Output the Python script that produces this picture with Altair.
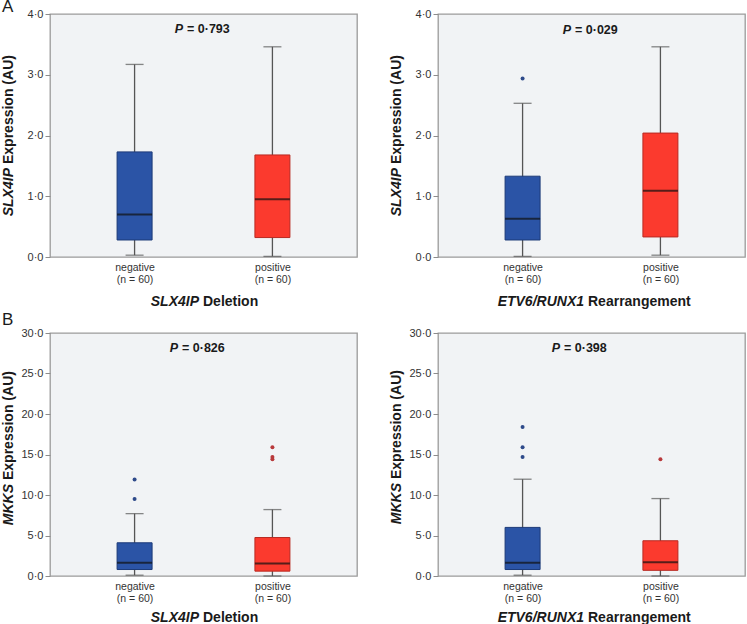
import altair as alt
import pandas as pd

FONT = "Liberation Sans"
groups = ["negative", "positive"]
n_counts = [60, 60]

box_fill = ["#2b54a6", "#fb3a2e"]
box_edge = ["#1c3a78", "#b82a22"]
outlier_fill = ["#2e4a8a", "#b8393b"]

# A: SLX4IP expression vs SLX4IP deletion
a1_low = [0.03, 0.01]
a1_q1 = [0.28, 0.32]
a1_med = [0.70, 0.95]
a1_q3 = [1.73, 1.68]
a1_high = [3.17, 3.46]
a1_out_group = []
a1_out_val = []

# A: SLX4IP expression vs ETV6/RUNX1 rearrangement
a2_low = [0.01, 0.03]
a2_q1 = [0.28, 0.33]
a2_med = [0.63, 1.09]
a2_q3 = [1.33, 2.04]
a2_high = [2.53, 3.46]
a2_out_group = ["negative"]
a2_out_val = [2.94]

# B: MKKS expression vs SLX4IP deletion
b1_low = [0.1, 0.0]
b1_q1 = [0.8, 0.6]
b1_med = [1.65, 1.55]
b1_q3 = [4.1, 4.75]
b1_high = [7.7, 8.2]
b1_out_group = ["negative", "negative", "positive", "positive", "positive"]
b1_out_val = [11.9, 9.5, 15.9, 14.7, 14.4]

# B: MKKS expression vs ETV6/RUNX1 rearrangement
b2_low = [0.1, 0.0]
b2_q1 = [0.8, 0.7]
b2_med = [1.65, 1.7]
b2_q3 = [6.0, 4.35]
b2_high = [11.95, 9.56]
b2_out_group = ["negative", "negative", "negative", "positive"]
b2_out_val = [18.4, 15.9, 14.7, 14.4]

W, H = 307, 243
GAP = 4  # word gap between the italic symbol and the plain text


def panel(low, q1, med, q3, high, out_group, out_val, ymax, ystep,
          p_text, p_pos, gene, ytitle_join, xgene, xrest, xtitle_join, xtitle_dy,
          letter=None, letter_y=0):
    df = pd.DataFrame({"group": groups, "low": low, "q1": q1, "median": med,
                       "q3": q3, "high": high})
    ticks = list(range(0, ymax + 1, ystep))
    yscale = alt.Scale(domain=[0, ymax], nice=False, zero=True)
    yaxis = alt.Axis(values=ticks, grid=False, domain=False, title=None,
                     labelExpr="replace(format(datum.value, '.1f'), '.', '·')",
                     tickColor="#8c8c8c", tickSize=5, tickWidth=1,
                     labelFontSize=11, labelColor="#333333", labelPadding=2)
    nexpr = f"[datum.label, datum.label == 'negative' ? '(n = {n_counts[0]})' : '(n = {n_counts[1]})']"
    xenc = alt.X("group:N", scale=alt.Scale(type="point", padding=0.6136, domain=groups),
                 axis=alt.Axis(title=None, ticks=False, domain=False, labelAngle=0,
                               labelExpr=nexpr, labelFontSize=10.5, labelColor="#333333",
                               labelPadding=5, labelLineHeight=12))
    base = alt.Chart(df)
    whisker = base.mark_rule(color="#555555", strokeWidth=1.3).encode(
        x=xenc, y=alt.Y("low:Q", scale=yscale, axis=yaxis), y2="high:Q")
    cap_lo = base.mark_tick(size=18, thickness=1.3, color="#555555").encode(x=xenc, y="low:Q")
    cap_hi = base.mark_tick(size=18, thickness=1.3, color="#555555").encode(x=xenc, y="high:Q")
    box = base.mark_bar(size=35, strokeWidth=1, opacity=1).encode(
        x=xenc, y="q1:Q", y2="q3:Q",
        color=alt.Color("group:N", scale=alt.Scale(domain=groups, range=box_fill), legend=None),
        stroke=alt.Stroke("group:N", scale=alt.Scale(domain=groups, range=box_edge), legend=None))
    median = base.mark_tick(size=35, thickness=2, color="#111111").encode(x=xenc, y="median:Q")
    layers = [whisker, cap_lo, cap_hi, box, median]
    if out_val:
        odf = pd.DataFrame({"group": out_group, "value": out_val})
        layers.append(alt.Chart(odf).mark_circle(size=16, opacity=1).encode(
            x=xenc, y="value:Q",
            fill=alt.Fill("group:N", scale=alt.Scale(domain=groups, range=outlier_fill), legend=None)))

    def txt(s, x, y, **kw):
        return alt.Chart(pd.DataFrame({"t": [s]})).mark_text(font=FONT, color="#1a1a1a", **kw).encode(
            x=alt.value(x), y=alt.value(y), text="t:N")

    px, py = p_pos
    layers += [
        txt("P", px, py, fontSize=12.5, fontWeight="bold", fontStyle="italic", align="right", baseline="middle"),
        txt("= " + p_text, px + GAP, py, fontSize=12.5, fontWeight="bold", align="left", baseline="middle"),
        # y-axis title, rotated; italic gene symbol joined to plain remainder
        txt(gene, -41, ytitle_join, fontSize=14, fontWeight="bold", fontStyle="italic",
            angle=270, align="right", baseline="middle"),
        txt("Expression (AU)", -41, ytitle_join - GAP, fontSize=14, fontWeight="bold",
            angle=270, align="left", baseline="middle"),
        # x-axis title
        txt(xgene, xtitle_join, H + xtitle_dy, fontSize=14, fontWeight="bold", fontStyle="italic",
            align="right", baseline="middle"),
        txt(xrest, xtitle_join + GAP, H + xtitle_dy, fontSize=14, fontWeight="bold",
            align="left", baseline="middle"),
    ]
    if letter:
        layers.append(txt(letter, -48, letter_y, fontSize=17, align="left", baseline="alphabetic",
                          fontWeight="normal"))
    return alt.layer(*layers).resolve_scale(color="independent").properties(width=W, height=H)


pa1 = panel(a1_low, a1_q1, a1_med, a1_q3, a1_high, a1_out_group, a1_out_val, 4, 1,
            "0·793", (133, 15), "SLX4IP", 154, "SLX4IP", "Deletion", 149, 45, "A", -2)
pa2 = panel(a2_low, a2_q1, a2_med, a2_q3, a2_high, a2_out_group, a2_out_val, 4, 1,
            "0·029", (133, 16), "SLX4IP", 154, "ETV6/RUNX1", "Rearrangement", 146, 45)
pb1 = panel(b1_low, b1_q1, b1_med, b1_q3, b1_high, b1_out_group, b1_out_val, 30, 5,
            "0·826", (128, 15), "MKKS", 151, "SLX4IP", "Deletion", 149, 42, "B", -8)
pb2 = panel(b2_low, b2_q1, b2_med, b2_q3, b2_high, b2_out_group, b2_out_val, 30, 5,
            "0·398", (122, 15), "MKKS", 150, "ETV6/RUNX1", "Rearrangement", 146, 42)

chart = alt.concat(pa1, pa2, pb1, pb2, columns=2, bounds="flush",
                   spacing={"row": 76, "column": 81}).properties(
    padding={"left": 1, "top": -3, "right": 0, "bottom": 0},
    background="white",
).configure_view(
    fill="#f1f3f5", stroke="#9b9b9b", strokeWidth=1.3
).configure_axis(
    labelFont=FONT
).configure_text(font=FONT)

chart.save("out.html", embed_options={"renderer": "svg", "actions": False})
